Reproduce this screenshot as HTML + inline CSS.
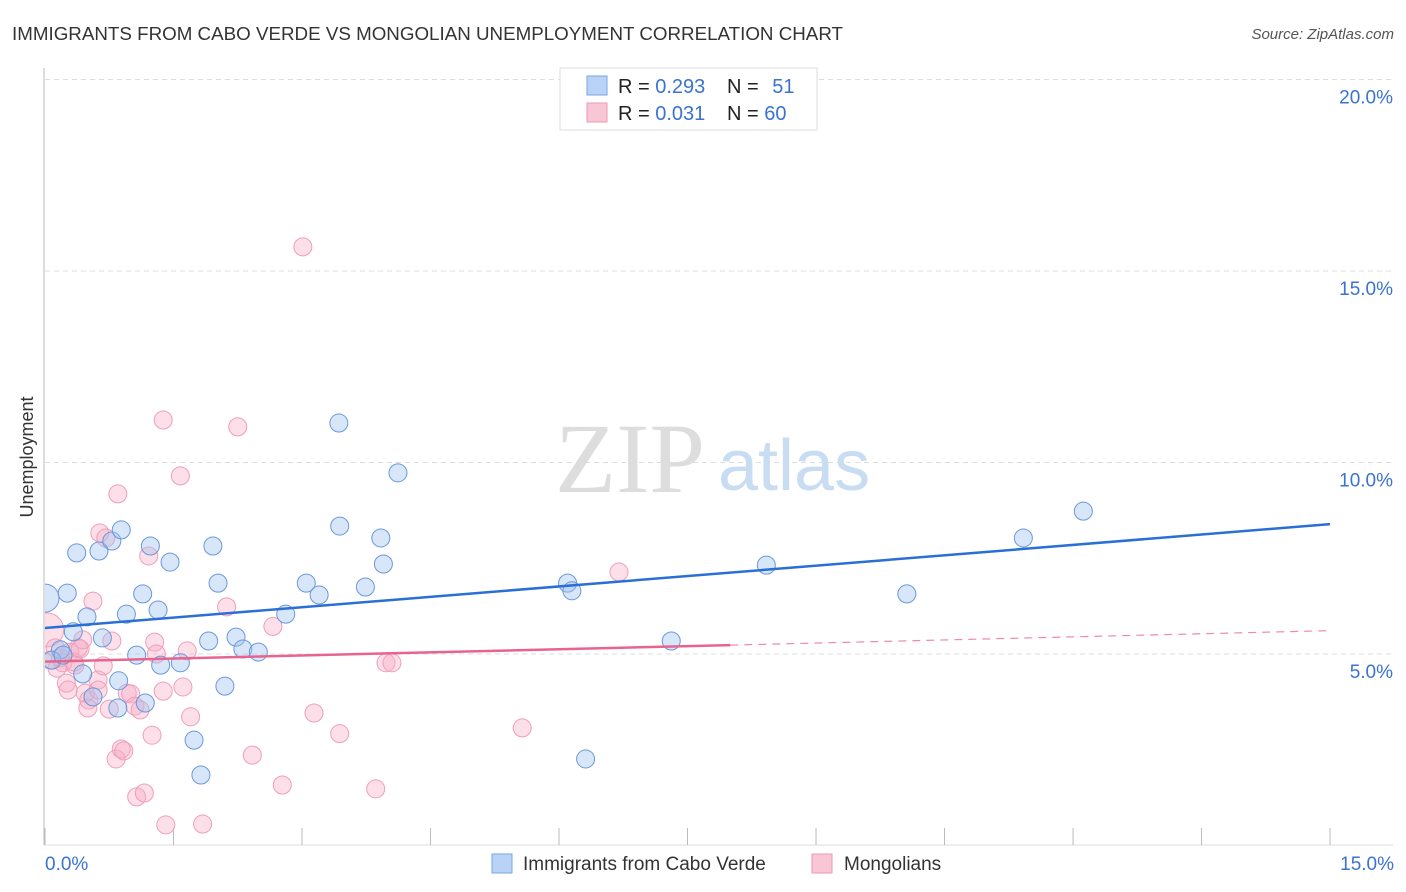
<!DOCTYPE html>
<html><head><meta charset="utf-8"><style>
body{margin:0;background:#fff;font-family:"Liberation Sans",sans-serif;}
#wrap{position:relative;width:1406px;height:892px;overflow:hidden;}
</style></head><body>
<div id="wrap">
<svg id="svg" width="1406" height="892" xmlns="http://www.w3.org/2000/svg">
<defs><clipPath id="plotclip"><rect x="45" y="60" width="1360" height="786"/></clipPath></defs>
<text x="12" y="40" font-size="18" fill="#333" textLength="831" lengthAdjust="spacingAndGlyphs">IMMIGRANTS FROM CABO VERDE VS MONGOLIAN UNEMPLOYMENT CORRELATION CHART</text>
<text x="1394" y="39" font-size="15" fill="#555" font-style="italic" text-anchor="end">Source: ZipAtlas.com</text>
<text transform="translate(33,457) rotate(-90)" font-size="18" fill="#333" text-anchor="middle">Unemployment</text>
<g id="grid"></g>
<text x="555" y="492" font-size="100" font-family="Liberation Serif,serif" fill="#ddd">ZIP</text>
<text x="718" y="490" font-size="72" fill="#c8dcf2">atlas</text>
<g id="marks" clip-path="url(#plotclip)"></g>
<g>
<rect x="560" y="68" width="257" height="62" fill="#fff" stroke="#ddd"/>
<rect x="587" y="76" width="20" height="19" fill="#b8d3f5" stroke="#7aa7e0"/>
<rect x="587" y="103" width="20" height="19" fill="#f9c6d6" stroke="#ec9ab4"/>
<text x="618" y="93" font-size="20" fill="#222">R = <tspan fill="#3a73d0">0.293</tspan></text>
<text x="727" y="93" font-size="20" fill="#222">N = <tspan fill="#3a73d0" dx="8">51</tspan></text>
<text x="618" y="120" font-size="20" fill="#222">R = <tspan fill="#3a73d0">0.031</tspan></text>
<text x="727" y="120" font-size="20" fill="#222">N = <tspan fill="#3a73d0">60</tspan></text>
</g>
<g>
<rect x="492" y="854" width="20" height="19" fill="#b8d3f5" stroke="#7aa7e0"/>
<text x="523" y="870" font-size="19" fill="#333">Immigrants from Cabo Verde</text>
<rect x="812" y="854" width="20" height="19" fill="#f9c6d6" stroke="#ec9ab4"/>
<text x="844" y="870" font-size="19" fill="#333">Mongolians</text>
</g>
</svg>
</div>
<script>
const yTicks=[5,10,15,20];
const yTickLabels=["5.0%","10.0%","15.0%","20.0%"];
const xEndLabels=["0.0%","15.0%"];
const blueX=[0,0.26,0.37,0.63,0.78,0.89,0.49,0.33,0.67,0.95,1.14,1.23,1.46,1.32,1.07,1.35,1.58,0.86,0.56,0.44,0.85,1.17,1.74,1.82,2.10,1.91,1.96,2.02,2.23,2.31,2.49,2.81,3.05,3.20,3.43,3.44,3.74,3.92,3.95,4.12,6.10,6.15,6.31,7.31,8.42,10.06,11.42,12.12,0.18,0.08,0.21];
const blueY=[6.46,6.59,7.64,7.69,7.95,8.24,5.97,5.58,5.42,6.04,6.57,7.82,7.40,6.15,4.97,4.71,4.77,4.30,3.88,4.48,3.59,3.72,2.75,1.84,4.16,5.34,7.82,6.85,5.44,5.13,5.05,6.04,6.85,6.54,11.03,8.34,6.75,8.03,7.35,9.73,6.85,6.65,2.26,5.34,7.32,6.57,8.03,8.73,5.11,4.84,4.97];
const pinkX=[0.02,0.12,0.14,0.21,0.25,0.29,0.34,0.39,0.41,0.47,0.51,0.56,0.62,0.64,0.68,0.71,0.75,0.78,0.83,0.85,0.89,0.92,0.96,1.00,1.05,1.07,1.16,1.21,1.25,1.28,1.30,1.38,1.41,1.38,1.58,1.61,1.66,1.70,1.84,2.12,2.25,2.42,2.66,2.77,3.01,3.14,3.44,3.86,3.98,4.05,5.57,6.70,0.18,0.06,0.27,0.35,0.44,0.62,1.11,0.50];
const pinkY=[5.63,5.16,4.63,4.77,4.24,5.05,4.79,5.16,5.13,3.98,3.80,6.38,4.32,8.16,4.69,8.03,3.56,5.34,2.26,9.18,2.52,2.47,3.98,3.96,3.64,1.27,1.37,7.56,2.88,5.31,5.00,4.03,0.54,11.11,9.65,4.14,5.08,3.36,0.56,6.23,10.93,2.36,5.72,1.58,15.63,3.46,2.92,1.48,4.77,4.77,3.07,7.14,4.90,4.84,4.06,4.71,5.37,4.06,3.54,3.59];
const blueTrend=[5.68,8.39];
const pinkTrend=[4.80,5.61];
const pinkSolidEnd=8.0;

const X=v=>45+v*85.67, Y=v=>845.5-v*38.3;
const NS="http://www.w3.org/2000/svg";
function mk(t,a,p){const e=document.createElementNS(NS,t);for(const k in a)e.setAttribute(k,a[k]);p.appendChild(e);return e;}
const grid=document.getElementById('grid'), marks=document.getElementById('marks');
yTicks.forEach((t,i)=>{
 const l=mk('line',{x1:45,x2:1393,y1:Y(t),y2:Y(t),stroke:'#ddd','stroke-dasharray':'5,4'},grid);
 
 
 const tx=mk('text',{x:1393,y:Y(t)+24,'font-size':19,fill:'#3a73d0','text-anchor':'end'},grid);
 tx.textContent=yTickLabels[i];
 
 
});
const ax=mk('line',{x1:44,x2:44,y1:68,y2:845,stroke:'#bbb'},grid);


const bx=mk('line',{x1:44,x2:1393,y1:845,y2:845,stroke:'#ddd'},grid);


for(let i=0;i<=10;i++){
 const t=mk('line',{x1:X(i*1.5),x2:X(i*1.5),y1:828,y2:845,stroke:'#bbb'},grid);
 
 
}
[[0,45,'start'],[15,1394,'end']].forEach((d,i)=>{
 const t=mk('text',{x:d[1],y:870,'font-size':19,fill:'#3a73d0','text-anchor':d[2]},grid);
 t.textContent=xEndLabels[i];
 
 
});
pinkX.forEach((x,i)=>{
 const c=mk('circle',{cx:X(x),cy:Y(pinkY[i]),r:i===0?17:9,fill:'rgba(246,170,196,0.38)',stroke:'#ef9fb8','stroke-width':1},marks);
 
 
});
blueX.forEach((x,i)=>{
 const c=mk('circle',{cx:X(x),cy:Y(blueY[i]),r:i===0?14:9,fill:'rgba(160,196,240,0.42)',stroke:'#6a98da','stroke-width':1},marks);
 
 
});
const bl=mk('line',{x1:X(0),y1:Y(blueTrend[0]),x2:X(15),y2:Y(blueTrend[1]),stroke:'#2a6fd6','stroke-width':2.5},marks);


const pAt=x=>pinkTrend[0]+(pinkTrend[1]-pinkTrend[0])*x/15;
const pl=mk('line',{x1:X(0),y1:Y(pAt(0)),x2:X(pinkSolidEnd),y2:Y(pAt(pinkSolidEnd)),stroke:'#e8648e','stroke-width':2.5},marks);


const pd=mk('line',{x1:X(pinkSolidEnd),y1:Y(pAt(pinkSolidEnd)),x2:X(15),y2:Y(pAt(15)),stroke:'#ee8aa8','stroke-width':1.2,'stroke-dasharray':'8,6'},marks);


</script>
</body></html>
